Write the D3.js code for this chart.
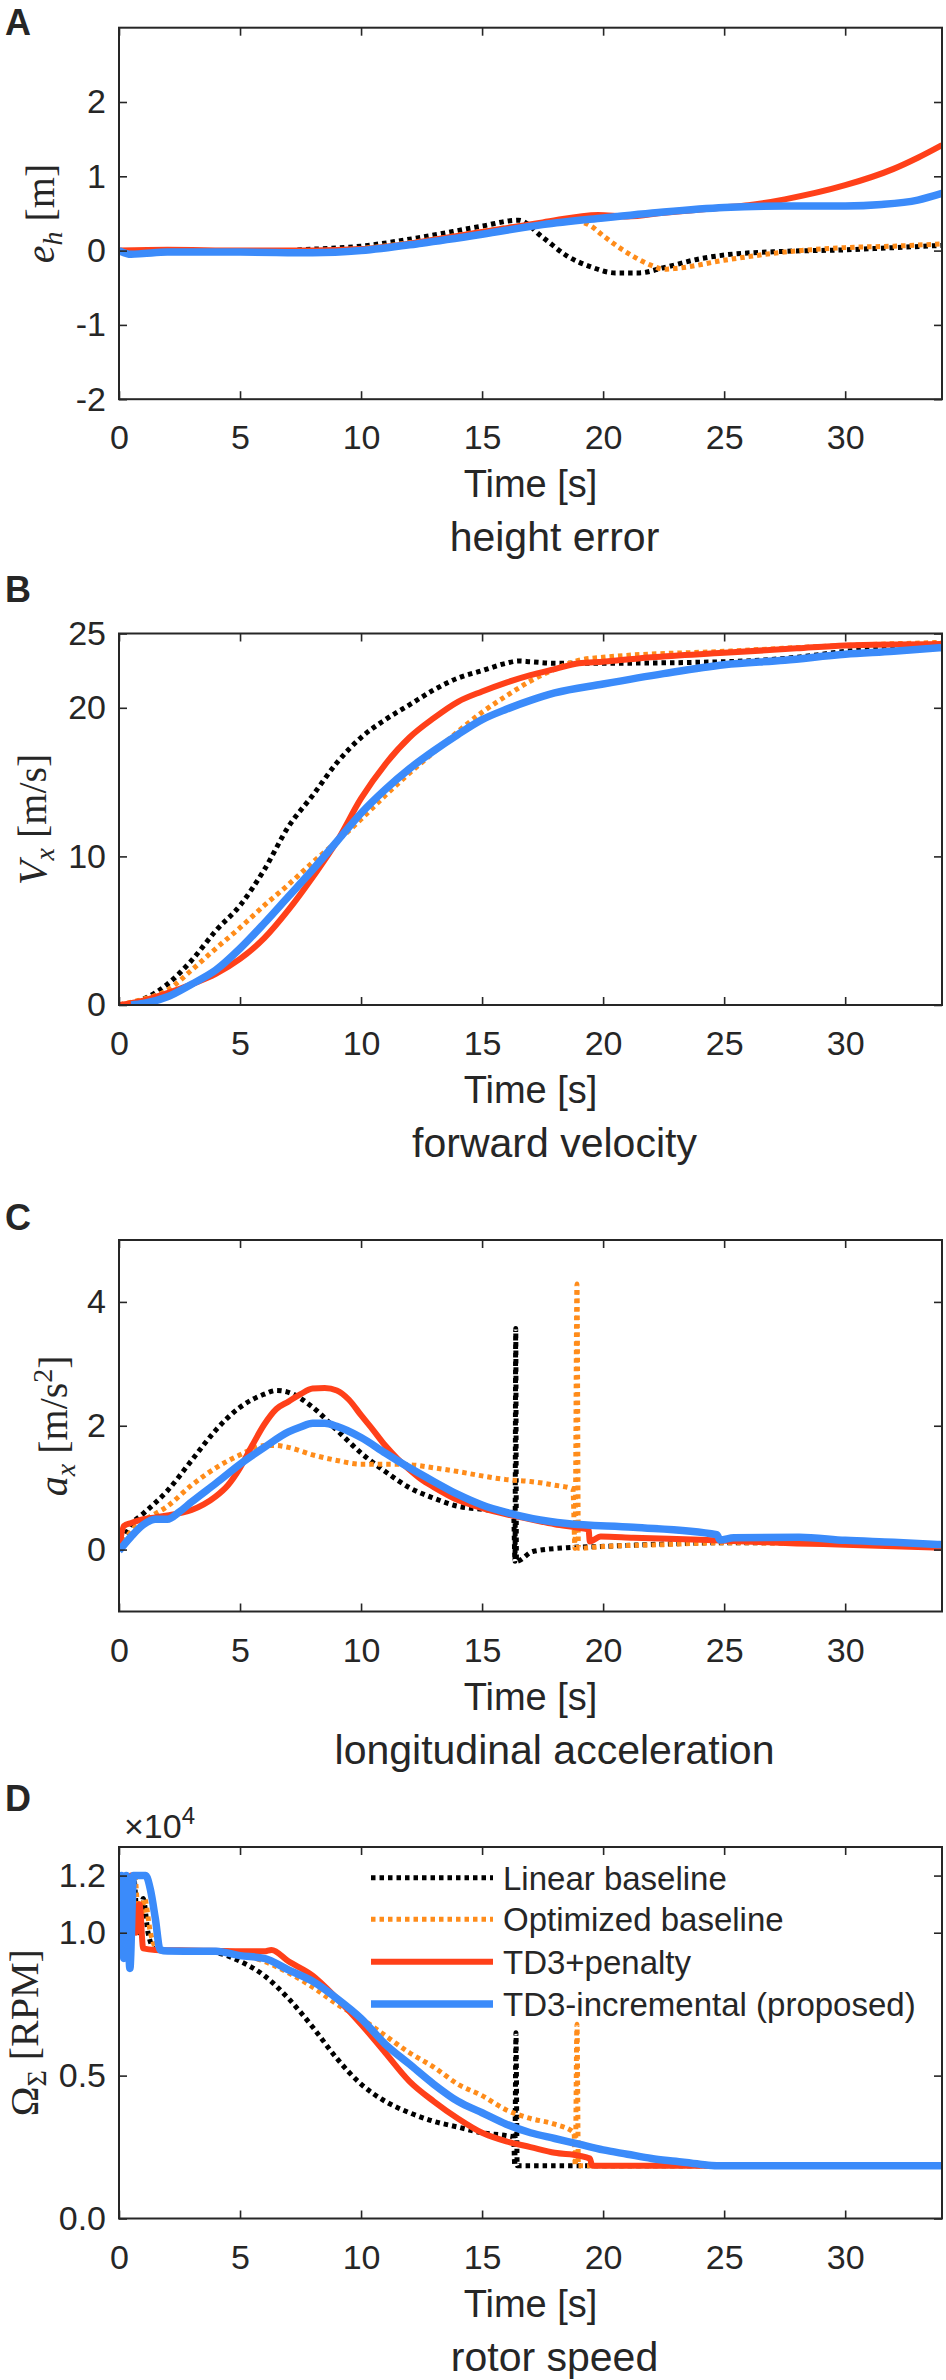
<!DOCTYPE html>
<html>
<head>
<meta charset="utf-8">
<script src="https://cdn.jsdelivr.net/npm/d3@7"></script>
<style>
body { margin: 0; background: #fff; }
text { fill: #262626; }
</style>
</head>
<body>
<div id="fig"></div>
<script>
var w = 946;
var h = 2380;

// legend order = draw order
var seriesNames = ["Linear baseline", "Optimized baseline", "TD3+penalty", "TD3-incremental (proposed)"];

var timeTicks = [0, 5, 10, 15, 20, 25, 30];

// A: height error [m]
var heightLinear = [[0,0],[2,0],[5,0],[7,0],[7.5,0.01],[10,0.06],[12.5,0.18],[15,0.33],[16.5,0.41],[17.5,0.18],[18.5,-0.07],[19.5,-0.22],[20.5,-0.3],[21.5,-0.3],[22.5,-0.23],[24,-0.11],[25,-0.06],[27.5,-0.01],[30,0.01],[32,0.04],[34,0.07]];
var heightOptimized = [[0,0],[5,0],[8,0],[10,0.03],[12.5,0.13],[15,0.26],[17.5,0.37],[18.8,0.4],[19.5,0.33],[20,0.2],[21,-0.03],[22,-0.2],[22.5,-0.25],[23,-0.24],[25,-0.13],[27.5,-0.02],[30,0.04],[32,0.06],[34,0.09]];
var heightPenalty = [[0,0],[2,0.01],[5,0],[8,0],[10,0.02],[12.5,0.12],[15,0.25],[17.5,0.38],[19.8,0.48],[21,0.46],[22.5,0.51],[25,0.58],[26,0.61],[27.5,0.69],[30,0.88],[32,1.1],[33,1.25],[34,1.42]];
var heightIncremental = [[0,0],[0.5,-0.05],[1,-0.04],[2,-0.02],[5,-0.02],[8,-0.03],[10,0],[12.5,0.1],[15,0.22],[17.5,0.35],[20,0.44],[22.5,0.52],[25,0.58],[27.5,0.6],[30,0.6],[31.5,0.62],[33,0.68],[34,0.77]];

// B: forward velocity [m/s]
var velLinear = [[0,0],[1,0.4],[2,1.4],[3,3.0],[4,5],[5,6.7],[6,9.1],[7,12],[8,14.1],[9,16.3],[10,18],[11,19.2],[12,20.2],[13,21.2],[14,22],[15,22.5],[16,23],[16.5,23.15],[17,23.1],[18,23],[20,23],[25,23.1],[28,23.4],[30,23.8],[34,24.2]];
var velOptimized = [[0,0],[1,0.4],[2,1.0],[3,2.35],[4,3.8],[5,5.2],[6,6.7],[7,8.1],[8,9.6],[9,11],[10,12.5],[11,14.1],[12,15.6],[13,17],[14,18.4],[15,19.7],[16,20.8],[17,21.8],[18,22.6],[19,23.2],[20,23.4],[25,23.8],[30,24.2],[34,24.4]];
var velPenalty = [[0,0],[1,0.3],[2,0.8],[3,1.4],[4,2.1],[5,3.1],[6,4.5],[7,6.4],[8,8.6],[9,11],[10,13.9],[11,16.2],[12,18],[13,19.3],[14,20.4],[15,21.1],[16,21.7],[17,22.2],[18,22.6],[19,23],[20,23.1],[22,23.4],[25,23.7],[28,24],[30,24.2],[34,24.3]];
var velIncremental = [[0.5,0],[1,0.1],[2,0.55],[3,1.4],[4,2.35],[5,3.8],[6,5.5],[7,7.3],[8,9.1],[9,11],[10,12.9],[11,14.5],[12,15.9],[13,17.1],[14,18.2],[15,19.2],[16,19.9],[17,20.5],[18,21],[20,21.6],[22.5,22.3],[25,22.9],[27.5,23.2],[30,23.6],[32,23.8],[34,24.05]];

// C: longitudinal acceleration [m/s^2]
var accLinear = [[0,0],[0.5,0.4],[1,0.58],[2,0.95],[3,1.44],[4,1.93],[5,2.3],[6,2.51],[6.5,2.57],[7,2.54],[8,2.3],[9,1.93],[10,1.56],[11,1.26],[12,1.0],[13,0.83],[14,0.7],[15,0.65],[16,0.61],[16.3,0.6],[16.36,-0.19],[16.39,3.57],[16.42,-0.19],[17.1,-0.03],[18.5,0.03],[19.9,0.05],[22.6,0.09],[24.7,0.11],[27.5,0.11],[30,0.09],[34,0.04]];
var accOptimized = [[0,0],[0.5,0.3],[1,0.46],[2,0.7],[3,1.04],[4,1.32],[5,1.53],[6,1.68],[6.5,1.68],[7,1.65],[8,1.53],[9,1.44],[10,1.38],[11,1.38],[12,1.37],[13,1.32],[14,1.26],[15,1.19],[16,1.13],[17,1.1],[18,1.04],[18.75,0.98],[18.84,0.02],[18.92,4.29],[18.98,0.02],[20,0.05],[22.5,0.08],[25,0.11],[30,0.09],[34,0.04]];
var accPenalty = [[0,0],[0.2,0.38],[0.5,0.43],[1,0.49],[1.5,0.52],[2,0.55],[3,0.64],[3.5,0.73],[4,0.86],[4.5,1.04],[5,1.32],[5.5,1.68],[6,2.02],[6.5,2.27],[7,2.39],[7.5,2.51],[8,2.6],[8.5,2.61],[9,2.57],[9.5,2.42],[10,2.17],[10.5,1.93],[11,1.68],[11.5,1.47],[12,1.29],[12.5,1.13],[13,1.01],[14,0.8],[15,0.67],[16,0.57],[17,0.49],[18,0.41],[19,0.35],[19.4,0.32],[19.45,0.13],[19.9,0.21],[21.25,0.19],[24,0.16],[28,0.1],[30,0.08],[34,0.03]];
var accIncremental = [[0,-0.02],[0.5,0.21],[1,0.4],[1.5,0.49],[2,0.49],[2.5,0.61],[3,0.77],[4,1.07],[5,1.38],[6,1.65],[7,1.9],[7.5,1.98],[8,2.04],[8.5,2.04],[9,1.99],[10,1.81],[11,1.56],[12,1.32],[13,1.1],[14,0.89],[15,0.72],[16,0.6],[17.1,0.5],[18.5,0.42],[21.25,0.36],[24.7,0.24],[24.83,0.155],[25.4,0.19],[28.1,0.2],[30,0.15],[32,0.12],[34,0.08]];

// D: rotor speed [x10^4 RPM]
var rpmLinear = [[0,0.95],[0.2,1.2],[0.4,0.95],[0.6,1.2],[0.8,1.0],[1.0,1.12],[1.2,1.0],[1.5,0.94],[2,0.936],[3,0.936],[4,0.93],[5,0.9],[6,0.85],[7,0.77],[8,0.67],[9,0.56],[10,0.47],[11,0.41],[12,0.37],[13,0.34],[14,0.32],[15,0.3],[16,0.29],[16.3,0.285],[16.35,0.185],[16.4,0.65],[16.45,0.185],[17,0.185],[20,0.185],[25,0.185],[34,0.185]];
var rpmOptimized = [[0,0.95],[0.25,1.15],[0.45,0.95],[0.65,1.2],[0.85,1.0],[1.05,1.12],[1.3,1.0],[1.6,0.94],[2,0.936],[4.5,0.936],[5,0.925],[6,0.9],[7,0.86],[8,0.81],[9,0.75],[10,0.7],[11,0.64],[12,0.58],[13,0.53],[14,0.47],[15,0.43],[16,0.38],[17,0.35],[18,0.33],[18.8,0.3],[18.85,0.185],[18.92,0.68],[18.98,0.185],[20,0.185],[34,0.185]];
var rpmPenalty = [[0,0.96],[0.15,1.1],[0.3,0.97],[0.5,1.2],[0.7,1.0],[0.85,1.1],[1.0,0.945],[1.5,0.94],[3,0.938],[6,0.935],[6.3,0.94],[7,0.9],[8,0.85],[9,0.77],[10,0.68],[11,0.58],[12,0.48],[13,0.41],[14,0.35],[15,0.3],[16,0.27],[17,0.25],[18,0.23],[19,0.22],[19.45,0.21],[19.55,0.185],[25,0.185],[34,0.185]];
var rpmIncremental = [[0,0.91],[0.1,1.2],[0.2,0.91],[0.3,1.2],[0.45,0.875],[0.6,1.2],[1.1,1.2],[1.3,1.15],[1.5,1.05],[1.7,0.94],[2,0.936],[4,0.935],[5,0.92],[6,0.91],[7,0.87],[8,0.83],[9,0.77],[10,0.7],[11,0.61],[12,0.54],[13,0.47],[14,0.41],[15,0.37],[16,0.33],[17,0.3],[18,0.28],[19,0.26],[20,0.24],[21,0.225],[22,0.21],[23,0.2],[24,0.19],[24.7,0.185],[34,0.185]];

var panelLetters = ["A", "B", "C", "D"];
var panelTitles = ["height error", "forward velocity", "longitudinal acceleration", "rotor speed"];
var yDomains = [[-2, 3], [0, 25], [-1, 5], [0, 1.3]];
var yTickValues = [[-2, -1, 0, 1, 2], [0, 10, 20, 25], [0, 2, 4], [0, 0.5, 1.0, 1.2]];
var panelData = [
    [heightLinear, heightOptimized, heightPenalty, heightIncremental],
    [velLinear, velOptimized, velPenalty, velIncremental],
    [accLinear, accOptimized, accPenalty, accIncremental],
    [rpmLinear, rpmOptimized, rpmPenalty, rpmIncremental]
];

// layout
var left = 119, pw = 823, ph = 371.5;
var tops = [27.7, 633.5, 1240, 1847];
var letterY = [35, 602, 1230, 1811];
var ylabX = [54, 46, 67, 38];

var colors = ["#000000", "#FF8C1A", "#FF4019", "#3B8BFA"];
var widths = [5, 5, 6, 7.5];
var dashes = ["4.5 4", "4.5 4", null, null];

var sans = "'Liberation Sans', Arial, sans-serif";
var serif = "'Liberation Serif', 'Times New Roman', serif";

// y label pieces: text, italic, font size, dy
var ylabParts = [
    [{t:"e", i:1}, {t:"h", i:1, s:28, dy:8}, {t:" [m]", dy:-8}],
    [{t:"V", i:1}, {t:"x", i:1, s:28, dy:8}, {t:" [m/s]", dy:-8}],
    [{t:"a", i:1}, {t:"x", i:1, s:28, dy:8}, {t:" [m/s", dy:-8}, {t:"2", s:28, dy:-15}, {t:"]", dy:15}],
    [{t:"\u03A9"}, {t:"\u03A3", s:28, dy:8}, {t:" [RPM]", dy:-8}]
];

var svg = d3.select("#fig")
            .append("svg")
            .attr("width", w)
            .attr("height", h)
            .style("background", "#fff");

var defs = svg.append("defs");

var x = d3.scaleLinear().domain([0, 34]).range([0, pw]);

panelData.forEach(function(series, p) {

    var y = d3.scaleLinear().domain(yDomains[p]).range([ph, 0]);

    var g = svg.append("g")
               .attr("transform", "translate(" + left + "," + tops[p] + ")");

    defs.append("clipPath")
        .attr("id", "clip" + p)
        .append("rect")
        .attr("width", pw)
        .attr("height", ph);

    var line = d3.line()
                 .x(function(d) { return x(d[0]); })
                 .y(function(d) { return y(d[1]); })
                 .curve(d3.curveMonotoneX);

    //Create lines
    var plot = g.append("g").attr("clip-path", "url(#clip" + p + ")");
    series.forEach(function(s, i) {
        plot.append("path")
            .datum(s)
            .attr("fill", "none")
            .attr("stroke", colors[i])
            .attr("stroke-width", widths[i])
            .attr("stroke-dasharray", dashes[i])
            .attr("stroke-linejoin", "round")
            .attr("d", line);
    });

    //Axes (ticks inside, box)
    var fmt = p == 3 ? d3.format(".1f") : function(d) { return String(d); };

    g.append("g")
        .attr("transform", "translate(0," + ph + ")")
        .call(d3.axisBottom(x).tickValues(timeTicks).tickSize(-8).tickPadding(26));
    g.append("g")
        .call(d3.axisLeft(y).tickValues(yTickValues[p]).tickSize(-8).tickPadding(13).tickFormat(fmt));
    g.append("g")
        .call(d3.axisTop(x).tickValues(timeTicks).tickSize(-8).tickFormat(""));
    g.append("g")
        .attr("transform", "translate(" + pw + ",0)")
        .call(d3.axisRight(y).tickValues(yTickValues[p]).tickSize(-8).tickFormat(""));

    g.selectAll(".domain").remove();
    g.selectAll(".tick line").attr("stroke", "#262626").attr("stroke-width", 1.6);
    g.selectAll(".tick text")
        .attr("font-family", sans)
        .attr("font-size", 34)
        .attr("fill", "#262626");

    g.append("rect")
        .attr("width", pw)
        .attr("height", ph)
        .attr("fill", "none")
        .attr("stroke", "#262626")
        .attr("stroke-width", 2);

    //Axis labels
    g.append("text")
        .attr("x", pw / 2)
        .attr("y", ph + 98)
        .attr("text-anchor", "middle")
        .style("font-family", sans)
        .style("font-size", "38px")
        .text("Time [s]");

    svg.append("text")
        .attr("x", 554.5)
        .attr("y", tops[p] + ph + 152)
        .attr("text-anchor", "middle")
        .style("font-family", sans)
        .style("font-size", "41px")
        .text(panelTitles[p]);

    svg.append("text")
        .attr("x", 5)
        .attr("y", letterY[p])
        .style("font-family", sans)
        .style("font-weight", "bold")
        .style("font-size", "36px")
        .text(panelLetters[p]);

    var yl = svg.append("text")
        .attr("transform", "translate(" + ylabX[p] + "," + (tops[p] + ph / 2) + ") rotate(-90)")
        .attr("text-anchor", "middle")
        .style("font-family", serif)
        .style("font-size", "40px")
        .style("white-space", "pre");
    ylabParts[p].forEach(function(part) {
        var ts = yl.append("tspan").text(part.t);
        if (part.i) ts.style("font-style", "italic");
        if (part.s) ts.style("font-size", part.s + "px");
        if (part.dy) ts.attr("dy", part.dy);
    });
});

// exponent label for panel D
var ex = svg.append("text")
    .attr("x", 124)
    .attr("y", 1838)
    .style("font-family", sans)
    .style("font-size", "34px");
ex.append("tspan").text("\u00D710");
ex.append("tspan").attr("dy", -14).style("font-size", "24px").text("4");

//Legend
var legendY = [1877.7, 1919.3, 1961.7, 2004];
var legend = svg.selectAll(".legend")
    .data(seriesNames)
    .enter()
    .append("g")
    .attr("class", "legend")
    .attr("transform", function(d, i) { return "translate(0," + legendY[i] + ")"; });

legend.append("line")
    .attr("x1", 371)
    .attr("x2", 493)
    .attr("stroke", function(d, i) { return colors[i]; })
    .attr("stroke-width", function(d, i) { return widths[i]; })
    .attr("stroke-dasharray", function(d, i) { return dashes[i]; });

legend.append("text")
    .attr("x", 503)
    .attr("y", 12)
    .style("font-family", sans)
    .style("font-size", "33px")
    .text(function(d) { return d; });
</script>
</body>
</html>
